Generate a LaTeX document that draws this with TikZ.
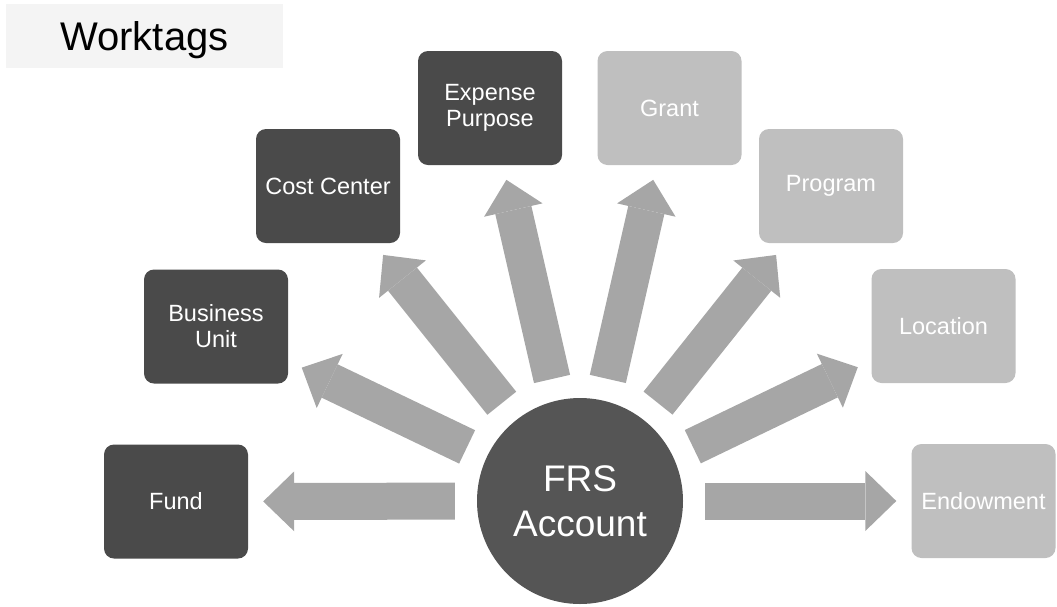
\documentclass[tikz,border=0pt]{standalone}
\usepackage{fontspec}
\setmainfont{Liberation Sans}
\usetikzlibrary{arrows.meta}

\definecolor{tagdark}{HTML}{4A4A4A}
\definecolor{taglight}{HTML}{BFBFBF}
\definecolor{spokegray}{HTML}{A6A6A6}
\definecolor{hubgray}{HTML}{555555}
\definecolor{titlegray}{HTML}{F4F4F4}

\tikzset{
  tag/.style={rounded corners=10pt, minimum width=144pt, minimum height=114pt,
    inner sep=0pt, align=center, text=white, font=\fontsize{23.5}{26}\selectfont},
  darktag/.style={tag, fill=tagdark},
  lighttag/.style={tag, fill=taglight},
  spoke/.style={draw=spokegray, line width=37pt,
    -{Triangle[length=31pt,width=60pt,line width=0pt]},
    shorten <=22pt, shorten >=15pt}
}

\begin{document}
\begin{tikzpicture}[x=1pt,y=-1pt]
\useasboundingbox (0,0) rectangle (1057,606);
\node[fill=titlegray, minimum width=277pt, minimum height=64pt, text depth=0pt,
  font=\fontsize{40}{48}\selectfont] (title) at (144.5,36) {Worktags};

\node[circle, fill=hubgray, minimum size=206pt, inner sep=0pt, align=center,
  text=white, font=\fontsize{37}{45}\selectfont] (frs) at (580,501) {FRS\\Account};

\node[darktag] (fund) at (176,501.5) {Fund};
\node[darktag] (bunit) at (216,326.5) {Business\\Unit};
\node[darktag] (costc) at (328,186) {Cost Center};
\node[darktag] (expense) at (490,108) {Expense\\Purpose};
\node[lighttag] (grant) at (669.5,108) {Grant};
\node[lighttag] (program) at (831,186) {Program};
\node[lighttag] (location) at (943.5,326) {Location};
\node[lighttag] (endow) at (983.5,501) {Endowment};

\draw[spoke] (frs) -- (fund);
\draw[spoke] (frs) -- (bunit);
\draw[spoke] (frs) -- (costc);
\draw[spoke] (frs) -- (expense);
\draw[spoke] (frs) -- (grant);
\draw[spoke] (frs) -- (program);
\draw[spoke] (frs) -- (location);
\draw[spoke] (frs) -- (endow);
\end{tikzpicture}
\end{document}
